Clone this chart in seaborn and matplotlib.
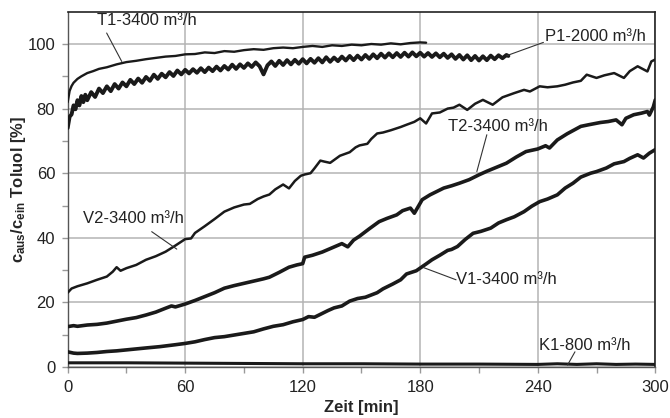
import numpy as np
import pandas as pd
import matplotlib
matplotlib.use('Agg')
import matplotlib.pyplot as plt
import seaborn as sns

# breakthrough curves
t1_x = [0, 1, 2, 3, 5, 7, 10, 13, 16, 20, 25, 30, 35, 40, 45, 50, 55, 60, 65, 70, 75, 80,
        85, 90, 95, 100, 105, 110, 115, 120, 125, 130, 135, 140, 145, 150, 155, 160, 165,
        170, 175, 180, 183]
t1_y = [82.0, 85.5, 87.0, 88.0, 89.2, 90.0, 91.0, 91.6, 92.3, 92.8, 93.7, 94.4, 94.8, 95.3,
        95.7, 96.1, 96.3, 96.8, 96.9, 97.4, 97.2, 97.8, 97.6, 98.1, 98.4, 98.2, 98.7, 98.9,
        98.7, 99.1, 99.4, 99.1, 99.6, 99.4, 99.8, 99.6, 100.0, 99.8, 100.2, 99.9, 100.3,
        100.5, 100.4]

p1_x = [0, 1, 2, 3, 4, 5, 6, 7, 8, 9, 10] + list(range(12, 226, 2)) + [225]
p1_y = [74.0, 77.5, 78.2, 81.0, 79.8, 82.6, 81.0, 83.9, 82.0, 84.3, 82.6,
        85.1, 83.6, 86.2, 84.8, 86.9, 85.4, 87.6, 86.2, 88.1, 86.9,
        88.9, 87.6, 89.3, 88.0, 89.8, 88.6, 90.5, 89.2, 90.8, 89.7,
        91.3, 90.1, 91.8, 90.6, 92.0, 90.9, 92.2, 91.1, 92.5, 91.3,
        92.7, 91.6, 93.0, 91.8, 93.2, 92.1, 93.6, 92.3, 93.7, 92.6,
        94.0, 92.9, 94.3, 93.1, 90.6, 93.4, 94.6, 93.2, 94.8, 93.5,
        95.0, 93.7, 95.1, 93.9, 95.3, 94.0, 95.4, 94.2, 95.6, 94.3,
        95.9, 94.5, 95.8, 94.7, 96.1, 94.9, 96.3, 95.0, 96.4, 95.2,
        96.6, 95.4, 96.8, 95.6, 97.0, 95.8, 97.1, 95.9, 97.2, 96.0,
        97.3, 96.1, 97.4, 96.2, 97.3, 96.1, 97.2, 96.0, 97.1, 95.9,
        97.0, 95.7, 96.8, 95.4, 96.6, 95.2, 96.5, 95.0, 96.3, 94.9,
        96.2, 95.0, 96.4, 95.3, 96.5, 95.6, 96.6, 96.3]

v2_x = [0, 2, 5, 10, 15, 20, 23, 25, 27, 30, 35, 40, 45, 50, 55, 60, 63, 65, 70, 75, 80,
        85, 90, 93, 97, 100, 103, 106, 110, 113, 116, 119, 121, 124, 126, 129, 131, 134,
        139, 144, 147, 149, 153, 155, 158, 161, 165, 170, 173, 177, 180, 183, 186, 190,
        194, 197, 200, 204, 208, 212, 217, 222, 228, 233, 236, 241, 245, 250, 254, 258,
        262, 265, 270, 274, 279, 284, 287, 291, 296, 298, 300]
v2_y = [23.0, 24.3, 25.0, 25.9, 27.0, 28.0, 29.5, 30.9, 29.8, 30.6, 31.6, 33.2, 34.3, 35.7,
        37.6, 39.6, 39.8, 41.5, 43.6, 45.8, 48.1, 49.4, 50.3, 50.5, 52.0, 52.8, 53.4, 55.0,
        56.5, 55.3, 57.6, 59.2, 59.6, 60.0, 61.5, 63.9, 63.6, 63.2, 65.4, 66.5, 68.0, 68.6,
        69.1, 70.6, 72.3, 72.6, 73.3, 74.3, 75.0, 75.9, 77.0, 75.4, 78.5, 78.8, 80.0, 80.3,
        81.2, 79.6, 81.5, 82.7, 81.2, 83.5, 84.8, 85.8, 85.3, 86.9, 86.6, 86.9, 87.4, 88.1,
        88.6, 90.5, 89.5, 90.3, 91.0, 89.5, 91.6, 93.1, 91.5, 94.6, 95.2]

t2_x = [0, 3, 5, 10, 15, 20, 25, 30, 35, 40, 45, 50, 53, 55, 60, 65, 70, 75, 80, 85, 90,
        95, 100, 103, 108, 113, 117, 120, 121, 125, 130, 135, 140, 143, 146, 149, 154, 159,
        163, 168, 171, 175, 177, 181, 185, 188, 192, 196, 200, 205, 210, 214, 218, 224,
        229, 234, 240, 244, 246, 250, 255, 262, 266, 272, 276, 280, 283, 285, 289, 293,
        296, 297, 299, 300]
t2_y = [12.5, 12.8, 12.6, 13.0, 13.2, 13.6, 14.2, 14.8, 15.3, 16.1, 17.0, 18.2, 18.9, 18.6,
        19.5, 20.6, 21.8, 23.0, 24.4, 25.2, 25.9, 26.6, 27.3, 27.8, 29.3, 30.9, 31.6, 32.0,
        34.0, 34.6, 35.6, 36.9, 38.2, 37.2, 39.3, 40.5, 42.8, 45.0, 46.0, 47.1, 48.4, 49.2,
        47.6, 51.8, 53.3, 54.2, 55.4, 56.1, 56.9, 58.0, 59.5, 60.6, 61.6, 63.1, 65.0, 66.7,
        67.5, 68.5, 67.8, 70.3, 72.2, 74.5, 75.0, 75.7, 76.0, 76.5, 75.0, 77.0, 78.1, 78.6,
        79.1, 78.0, 80.5, 82.7]

v1_x = [0, 3, 5, 10, 15, 20, 25, 30, 35, 40, 47, 55, 60, 65, 70, 75, 80, 85, 90, 95, 100,
        105, 110, 115, 120, 123, 126, 130, 133, 136, 140, 144, 148, 152, 158, 161, 166,
        170, 173, 178, 183, 186, 190, 194, 196, 199, 203, 207, 211, 216, 220, 224, 228,
        233, 237, 241, 245, 250, 254, 258, 262, 267, 270, 275, 279, 284, 287, 291, 294,
        297, 300]
v1_y = [4.7, 4.3, 4.2, 4.3, 4.5, 4.8, 5.0, 5.3, 5.6, 5.9, 6.3, 6.9, 7.3, 7.8, 8.5, 9.1,
        9.4, 9.9, 10.4, 10.9, 11.8, 12.6, 13.1, 14.0, 14.7, 15.6, 15.4, 16.6, 17.5, 18.3,
        18.9, 20.4, 21.2, 21.6, 23.0, 24.2, 25.7, 27.0, 28.8, 29.8, 31.9, 33.2, 34.6, 36.1,
        36.4, 37.3, 39.5, 41.4, 42.0, 43.0, 44.6, 45.6, 46.5, 48.1, 49.8, 51.2, 52.0, 53.3,
        55.4, 56.9, 58.8, 60.0, 60.5, 61.6, 62.9, 63.6, 64.6, 65.7, 64.7, 66.2, 67.3]

k1_x = [0, 30, 60, 90, 120, 150, 180, 210, 240, 250, 260, 270, 280, 290, 300]
k1_y = [1.3, 1.3, 1.2, 1.1, 1.0, 1.0, 0.9, 0.9, 0.8, 1.0, 0.8, 1.0, 0.8, 0.9, 0.8]

series = [('T1', t1_x, t1_y, 1.7), ('P1', p1_x, p1_y, 2.8), ('V2', v2_x, v2_y, 1.8),
          ('T2', t2_x, t2_y, 2.6), ('V1', v1_x, v1_y, 2.6), ('K1', k1_x, k1_y, 2.2)]

# label, text position, leader start, leader end
labels = [('T1-3400 m³/h', (15, 107.2), (19.9, 103.4), (27.6, 94.6)),
          ('P1-2000 m³/h', (243.9, 102.4), (242.9, 100.5), (224.2, 96.4)),
          ('T2-3400 m³/h', (194.4, 74.5), (214.0, 71.9), (208.9, 60.5)),
          ('V2-3400 m³/h', (8.0, 46.1), (42.9, 41.9), (55.7, 36.5)),
          ('V1-3400 m³/h', (198.3, 27.0), (198.3, 27.0), (181.6, 30.8)),
          ('K1-800 m³/h', (240.4, 6.8), (259.0, 4.7), (255.2, 0.6))]

sns.set_style('white')
plt.rcParams['font.family'] = ['Liberation Sans', 'DejaVu Sans']
plt.rcParams['mathtext.fontset'] = 'custom'
plt.rcParams['mathtext.rm'] = 'Liberation Sans'
plt.rcParams['mathtext.bf'] = 'Liberation Sans:bold'
plt.rcParams['mathtext.it'] = 'Liberation Sans:italic'

fig = plt.figure(figsize=(6.7, 4.18), dpi=100)
ax = fig.add_axes([0.101, 0.122, 0.877, 0.85])

for name, xs, ys, lw in series:
    df = pd.DataFrame({'Zeit': xs, 'c': ys})
    sns.lineplot(data=df, x='Zeit', y='c', color='#1a1a1a', lw=lw, ax=ax,
                 estimator=None, sort=False, zorder=3)

for txt, pos, p0, p1 in labels:
    ax.text(pos[0], pos[1], txt, fontsize=12, va='center', ha='left', color='#222222')
    ax.annotate('', xy=p1, xytext=p0,
                arrowprops=dict(arrowstyle='-', lw=0.8, color='#333333',
                                shrinkA=0, shrinkB=0))

ax.set_xlim(0, 300)
ax.set_ylim(0, 110)
ax.set_xticks([0, 60, 120, 180, 240, 300])
ax.set_xticks([30, 90, 150, 210, 270], minor=True)
ax.set_yticks([0, 20, 40, 60, 80, 100])
ax.set_yticks([10, 30, 50, 70, 90], minor=True)
ax.grid(True, which='major', color='#b4b4b4', lw=1.1)
ax.tick_params(which='both', direction='out', length=4, width=1, color='#999999',
               labelsize=12, labelcolor='#222222', bottom=True, left=True, pad=5)

for s in ['top', 'right']:
    ax.spines[s].set_color('#222222')
    ax.spines[s].set_linewidth(1.2)
for s in ['left', 'bottom']:
    ax.spines[s].set_color('#555555')
    ax.spines[s].set_linewidth(1.0)

ax.set_xlabel('Zeit [min]', fontsize=12, fontweight='bold', labelpad=4)
ax.set_ylabel(r'$\mathbf{c_{aus}/c_{ein}}$ Toluol [%]', fontsize=12, fontweight='bold')
ax.yaxis.set_label_coords(-0.068, 0.5)

fig.savefig('out.png', dpi=100, facecolor='white')
